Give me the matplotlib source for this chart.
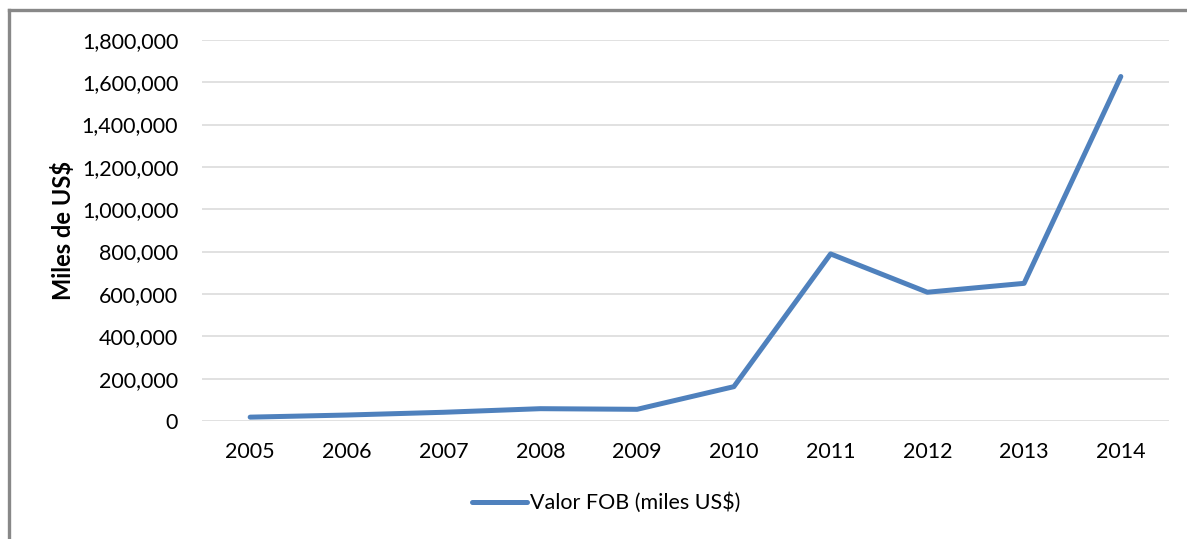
import matplotlib
matplotlib.use("Agg")
import matplotlib.pyplot as plt
from matplotlib.lines import Line2D
from matplotlib.ticker import FuncFormatter

years = ["2005", "2006", "2007", "2008", "2009", "2010", "2011", "2012", "2013", "2014"]
valor_fob = [18000, 28000, 41000, 58000, 55000, 162000, 789000, 608000, 650000, 1627000]
series_label = "Valor FOB (miles US$)"
y_label = "Miles de US$"

plt.rcParams['font.family'] = ['Lato', 'DejaVu Sans']

fig = plt.figure(figsize=(11.87, 5.39), dpi=100)
ax = fig.add_axes([0.170, 0.219, 0.815, 0.707])

x = list(range(len(years)))
ax.plot(x, valor_fob, color="#4F81BD", linewidth=3.6, solid_capstyle="round",
        solid_joinstyle="round", label=series_label, zorder=3)

ax.set_xlim(-0.5, len(years) - 0.5)
ax.set_ylim(0, 1800000)
ax.set_yticks(range(0, 1800001, 200000))
ax.yaxis.set_major_formatter(FuncFormatter(lambda v, p: f"{int(v):,}"))
ax.set_xticks(x)
ax.set_xticklabels(years)
ax.tick_params(axis="both", length=0, labelsize=15.5, colors="black")
ax.tick_params(axis="x", pad=15)
ax.tick_params(axis="y", pad=17)
ax.grid(axis="y", color="#D9D9D9", linewidth=1.1, zorder=0)
for s in ax.spines.values():
    s.set_visible(False)

ax.set_ylabel(y_label, fontsize=17, fontweight="bold", labelpad=5)

leg = fig.legend(loc="center", bbox_to_anchor=(0.511, 0.067), frameon=False,
                 fontsize=15.5, handlelength=2.55, handletextpad=0.15)

# outer border (left and top)
fig.add_artist(Line2D([0.0076, 0.0076], [0.0, 0.9815], color="#888888", linewidth=2.4,
                      transform=fig.transFigure, solid_capstyle="projecting"))
fig.add_artist(Line2D([0.0076, 1.0], [0.9815, 0.9815], color="#888888", linewidth=2.4,
                      transform=fig.transFigure, solid_capstyle="projecting"))

fig.savefig("out.png", dpi=100)
